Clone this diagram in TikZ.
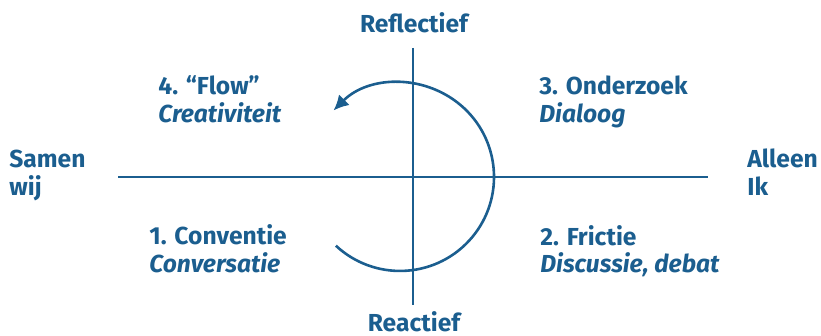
\documentclass[tikz,border=0pt]{standalone}
\usepackage{fontspec}
\setmainfont{Fira Sans}
\usetikzlibrary{arrows.meta,positioning}
\definecolor{axisblue}{HTML}{1B5E8F}

\begin{document}
\begin{tikzpicture}[
  x=0.5pt,y=-0.5pt,
  lbl/.style={text=axisblue,font=\fontsize{12.3}{14}\selectfont\bfseries,inner sep=0pt,anchor=base west,align=left},
  sub/.style={lbl,font=\fontsize{12.3}{14}\selectfont\bfseries\itshape},
  axis/.style={draw=axisblue,line width=1.4pt},
  turn/.style={draw=axisblue,line width=1.3pt,-{Latex[length=7.5pt,width=7.5pt]}}
]
\useasboundingbox (0,0) rectangle (821,336);
% axes
\coordinate (west) at (118,177);
\coordinate (east) at (708,177);
\coordinate (north) at (413,48);
\coordinate (south) at (413,305);
\draw[axis] (west) -- (east);
\draw[axis] (north) -- (south);
% cycle
\coordinate (cstart) at (335.9,245.7);
\draw[turn] (cstart) arc[start angle=133,end angle=-135,radius=94];
% axis labels
\node[lbl,anchor=base] (refl) at (414,33) {Reflectief};
\node[lbl,anchor=base] (react) at (414,332) {Reactief};
\node[lbl] (samen) at (9,196) {Samen\\wij};
\node[lbl] (alleen) at (747,196) {Alleen\\Ik};
% quadrants
\node[lbl] (q4) at (158,95) {4. “Flow”};
\node[sub] (q4b) at ([yshift=-14pt]q4.base west) {Creativiteit};
\node[lbl] (q3) at (539,95) {3. Onderzoek};
\node[sub] (q3b) at ([yshift=-14pt]q3.base west) {Dialoog};
\node[lbl] (q1) at (149,245) {1. Conventie};
\node[sub] (q1b) at ([yshift=-14pt]q1.base west) {Conversatie};
\node[lbl] (q2) at (540,246) {2. Frictie};
\node[sub] (q2b) at ([yshift=-13.5pt]q2.base west) {Discussie, debat};
\end{tikzpicture}
\end{document}
